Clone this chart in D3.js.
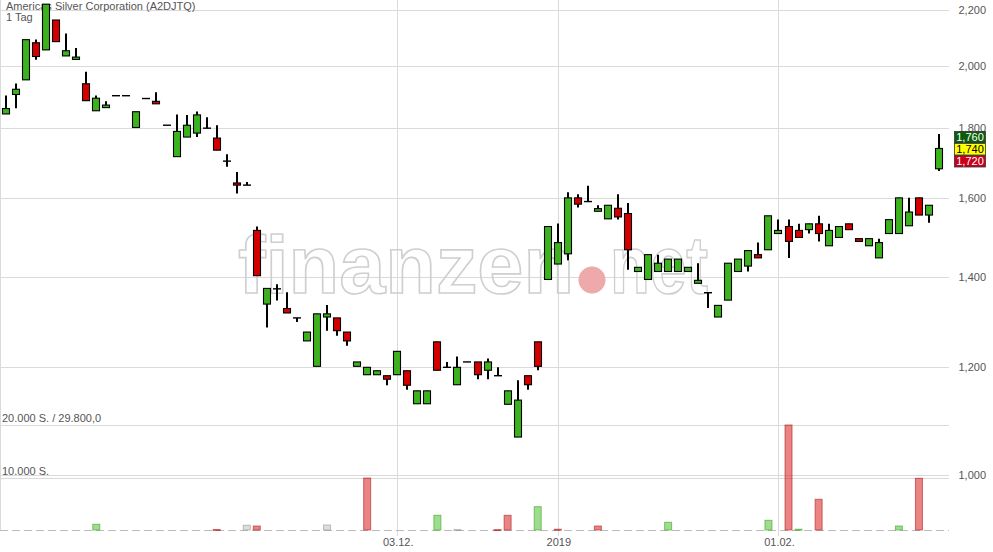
<!DOCTYPE html>
<html><head><meta charset="utf-8">
<script src="https://cdn.jsdelivr.net/npm/d3@7"></script>
<style>html,body{margin:0;padding:0;background:#fff;}svg{display:block;font-family:"Liberation Sans",Arial,sans-serif;}</style>
</head><body><svg id="c" width="993" height="552"></svg>
<script>
const title = "Americas Silver Corporation (A2DJTQ)";
const period = "1 Tag";
const dates = ["2018-10-09","2018-10-10","2018-10-11","2018-10-12","2018-10-15","2018-10-16","2018-10-17","2018-10-18","2018-10-19",
"2018-10-22","2018-10-23","2018-10-24","2018-10-25","2018-10-26","2018-10-29","2018-10-30","2018-10-31","2018-11-01","2018-11-02",
"2018-11-05","2018-11-06","2018-11-07","2018-11-08","2018-11-09","2018-11-12","2018-11-13","2018-11-14","2018-11-15","2018-11-16",
"2018-11-19","2018-11-20","2018-11-21","2018-11-22","2018-11-23","2018-11-26","2018-11-27","2018-11-28","2018-11-29","2018-11-30",
"2018-12-03","2018-12-04","2018-12-05","2018-12-06","2018-12-07","2018-12-10","2018-12-11","2018-12-12","2018-12-13","2018-12-14",
"2018-12-17","2018-12-18","2018-12-19","2018-12-20","2018-12-21","2018-12-28",
"2019-01-02","2019-01-03","2019-01-04","2019-01-07","2019-01-08","2019-01-09","2019-01-10","2019-01-11",
"2019-01-14","2019-01-15","2019-01-16","2019-01-17","2019-01-18","2019-01-21","2019-01-22","2019-01-23","2019-01-24","2019-01-25",
"2019-01-28","2019-01-29","2019-01-30","2019-01-31","2019-02-01","2019-02-04","2019-02-05","2019-02-06","2019-02-07","2019-02-08",
"2019-02-11","2019-02-12","2019-02-13","2019-02-14","2019-02-15","2019-02-18","2019-02-19","2019-02-20","2019-02-21","2019-02-22","2019-02-25"];
const open = [1845,1907,1955,2082,2057,2164,2036,2024,1942,1855,1865,1903,1903,1803,1894,1885,1810,1716,1774,1786,1801,1771,1703,1641,1635,1514,1336,1371,1326,1305,1255,1202,1307,1305,1274,1202,1185,1185,1183,1185,1193,1128,1128,1253,1200,1165,1211,1211,1194,1183,1127,1066,1183,1253,1393,1430,1455,1600,1590,1564,1544,1572,1558,1412,1393,1412,1412,1412,1412,1384,1362,1307,1345,1412,1425,1453,1465,1506,1524,1514,1516,1531,1475,1496,1531,1493,1475,1445,1506,1506,1526,1600,1554,1681];
const high = [1904,1943,2093,2094,2223,2164,2115,2064,1982,1904,1885,1903,1903,1852,1894,1914,1810,1843,1842,1853,1835,1810,1723,1672,1644,1524,1372,1382,1363,1305,1274,1314,1334,1305,1274,1211,1200,1193,1183,1233,1193,1153,1153,1253,1211,1222,1211,1211,1218,1200,1153,1174,1183,1253,1524,1532,1615,1610,1633,1580,1580,1610,1586,1422,1453,1453,1442,1442,1422,1432,1362,1333,1432,1442,1463,1483,1552,1542,1542,1531,1531,1552,1531,1524,1531,1493,1493,1493,1542,1600,1600,1600,1580,1783];
const low = [1845,1863,1955,2023,2057,2086,2036,2024,1887,1855,1865,1903,1903,1803,1894,1877,1810,1716,1774,1774,1801,1735,1687,1612,1635,1402,1284,1344,1316,1296,1255,1202,1277,1266,1245,1202,1185,1185,1164,1185,1155,1128,1128,1194,1200,1165,1211,1176,1176,1183,1127,1066,1155,1194,1393,1430,1439,1574,1590,1564,1544,1542,1416,1412,1393,1412,1412,1412,1412,1384,1327,1307,1345,1412,1412,1445,1465,1506,1445,1496,1506,1486,1475,1496,1516,1486,1475,1445,1506,1506,1526,1554,1534,1675];
const close = [1862,1924,2093,2034,2223,2086,2054,2032,1887,1895,1873,1903,1903,1852,1894,1877,1810,1791,1810,1842,1801,1735,1703,1635,1635,1402,1372,1371,1316,1305,1274,1314,1314,1277,1255,1211,1200,1193,1176,1233,1164,1153,1153,1194,1200,1200,1211,1185,1211,1183,1153,1135,1165,1202,1524,1483,1600,1583,1590,1571,1580,1549,1465,1422,1453,1432,1442,1442,1422,1391,1362,1333,1432,1442,1463,1445,1552,1514,1486,1496,1531,1506,1514,1524,1516,1486,1493,1483,1542,1600,1562,1554,1580,1740];
const volume = [0,0,0,0,0,0,0,0,0,1100,0,0,0,0,0,0,0,0,0,0,0,100,0,0,900,760,0,0,0,0,0,0,950,0,0,0,9900,0,0,0,0,0,0,2800,0,80,0,0,0,80,2800,0,0,4440,0,150,0,0,0,760,0,0,0,0,0,0,1470,0,0,0,0,0,0,0,0,0,1850,0,20000,150,0,5850,0,0,0,0,0,0,0,760,0,9850,0,0];
const priceTicks = [1000,1200,1400,1600,1800,2000,2200];
const volumeTicks = [10000,20000];
const volumeLabels = ["10.000 S.","20.000 S. / 29.800,0"];
const dateTicks = [["2018-12-03","03.12."],["2019-01-02","2019"],["2019-02-01","01.02."]];
const quoteBadges = [["1,760","#0d5c0d","#fff"],["1,740","#ffff00","#000"],["1,720","#c8001e","#fff"]];

const svg = d3.select("#c");
const x = d3.scalePoint().domain(dates).range([6, 939]);
const y = d3.scaleLog().domain([1000, 2200]).range([474.7, 10.3]);
const vy = d3.scaleLinear().domain([0, 20000]).range([530, 425]);
const fmt = d => d3.format(",")(d);
const gridColor = "#dadada";

// left frame
svg.append("line").attr("x1",0.5).attr("x2",0.5).attr("y1",0).attr("y2",530).attr("stroke",gridColor);

// horizontal price grid
svg.append("g").selectAll("line").data(priceTicks).join("line")
  .attr("x1",0).attr("x2",949).attr("y1",d=>Math.round(y(d))+0.5).attr("y2",d=>Math.round(y(d))+0.5)
  .attr("stroke",gridColor);
svg.append("g").selectAll("line").data(volumeTicks).join("line")
  .attr("x1",0).attr("x2",949).attr("y1",d=>Math.round(vy(d))+0.5).attr("y2",d=>Math.round(vy(d))+0.5)
  .attr("stroke",gridColor);
// vertical grid
svg.append("g").selectAll("line").data(dateTicks).join("line")
  .attr("x1",d=>Math.round(x(d[0]))+0.5).attr("x2",d=>Math.round(x(d[0]))+0.5)
  .attr("y1",0).attr("y2",536).attr("stroke",gridColor);

// watermark
const wm = svg.append("g").attr("fill","none").attr("stroke","#cfcfcf").attr("stroke-width",1.6)
  .style("font-family","'Liberation Sans',Arial,sans-serif").style("font-weight","bold").style("font-size","82px");
wm.append("text").attr("x",238).attr("y",293).attr("textLength",336).attr("lengthAdjust","spacingAndGlyphs").text("finanzen");
wm.append("text").attr("x",610).attr("y",293).attr("textLength",98).attr("lengthAdjust","spacingAndGlyphs").text("net");
svg.append("circle").attr("cx",592).attr("cy",280).attr("r",13.5).attr("fill","#eeaaaa");

// title
svg.append("text").attr("x",6).attr("y",10).attr("fill","#555").style("font-size","11px").text(title);
svg.append("text").attr("x",6).attr("y",20.5).attr("fill","#555").style("font-size","11px").text(period);

// volume baseline
svg.append("line").attr("x1",0).attr("x2",949).attr("y1",530.5).attr("y2",530.5)
  .attr("stroke","#bbb").attr("stroke-dasharray","8,4");

// volume bars
const vdata = dates.map((d,i)=>({d, v:volume[i], dir: i===0?0:Math.sign(close[i]-close[i-1])})).filter(e=>e.v>0);
svg.append("g").selectAll("rect").data(vdata).join("rect")
  .attr("x",e=>x(e.d)-3.5).attr("width",7)
  .attr("y",e=>vy(e.v)).attr("height",e=>Math.max(1,vy(0)-vy(e.v)))
  .attr("fill",e=>e.dir>0?"rgba(60,190,30,0.5)":e.dir<0?"rgba(220,30,30,0.55)":"rgba(180,180,180,0.45)")
  .attr("stroke",e=>e.dir>0?"rgba(60,160,30,0.6)":e.dir<0?"rgba(170,30,30,0.6)":"rgba(150,150,150,0.6)")
  .attr("stroke-width",1);

// volume labels
svg.append("g").selectAll("text").data(volumeTicks).join("text")
  .attr("x",2).attr("y",d=>vy(d)-3).attr("fill","#555").style("font-size","11px")
  .text((d,i)=>volumeLabels[i]);

// candles
const cdata = dates.map((d,i)=>({d,o:open[i],h:high[i],l:low[i],c:close[i]}));
const cg = svg.append("g");
cg.selectAll("line.w").data(cdata).join("line").attr("class","w")
  .attr("x1",e=>Math.round(x(e.d))).attr("x2",e=>Math.round(x(e.d)))
  .attr("y1",e=>y(e.h)).attr("y2",e=>y(e.l)).attr("stroke","#000").attr("stroke-width",2);
cg.selectAll("rect").data(cdata.filter(e=>e.o!==e.c)).join("rect")
  .attr("x",e=>Math.round(x(e.d))-3.5).attr("width",7)
  .attr("y",e=>y(Math.max(e.o,e.c))).attr("height",e=>Math.abs(y(e.o)-y(e.c)))
  .attr("fill",e=>e.c>e.o?"#3cb31e":"#d40000").attr("stroke","#000").attr("stroke-width",1.1);
cg.selectAll("line.d").data(cdata.filter(e=>e.o===e.c)).join("line").attr("class","d")
  .attr("x1",e=>Math.round(x(e.d))-4).attr("x2",e=>Math.round(x(e.d))+4)
  .attr("y1",e=>y(e.c)).attr("y2",e=>y(e.c)).attr("stroke","#000").attr("stroke-width",1.4);

// right axis labels
svg.append("g").selectAll("text").data(priceTicks).join("text")
  .attr("x",986).attr("y",d=>y(d)+4).attr("text-anchor","end").attr("fill","#555").style("font-size","11px")
  .text(d=>fmt(d));

// date labels
svg.append("g").selectAll("text").data(dateTicks).join("text")
  .attr("x",d=>x(d[0])+1).attr("y",546).attr("text-anchor","middle").attr("fill","#555").style("font-size","11px")
  .text(d=>d[1]);

// quote badges
const bg = svg.append("g").selectAll("g").data(quoteBadges).join("g")
  .attr("transform",(d,i)=>`translate(954.5,${131.5+i*12})`);
bg.append("rect").attr("width",31).attr("height",11.5).attr("fill",d=>d[1]).attr("stroke","#333").attr("stroke-width",0.8);
bg.append("text").attr("x",15.5).attr("y",9.5).attr("text-anchor","middle").attr("fill",d=>d[2]).style("font-size","11px").text(d=>d[0]);
</script></body></html>
